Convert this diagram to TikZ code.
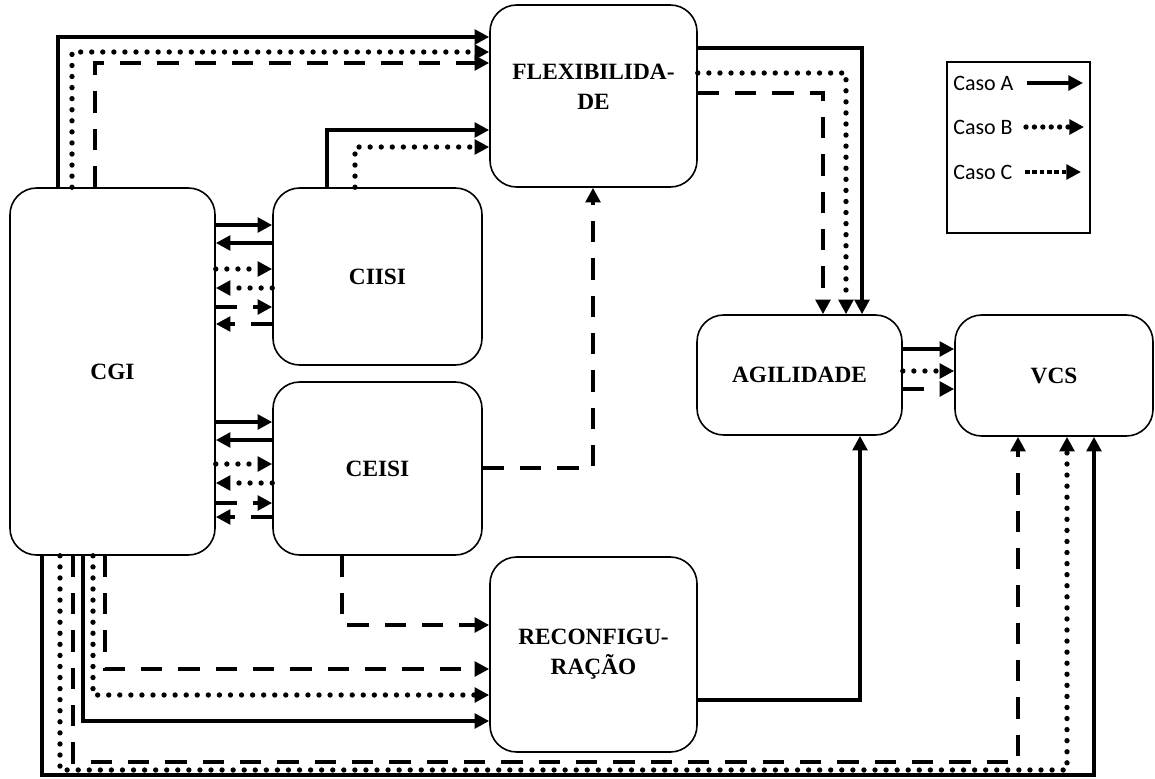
\documentclass[tikz,border=0pt]{standalone}
\usepackage{fontspec}
\setmainfont{Liberation Serif}
\newfontfamily\legfont{Carlito}
\usetikzlibrary{arrows.meta}
\begin{document}
\begin{tikzpicture}[x=0.75pt,y=-0.75pt,
  box/.style={draw,line width=1.2pt,rounded corners=20pt,inner sep=0pt,align=center,
    font=\bfseries\fontsize{17.5}{22.5}\selectfont},
  tipA/.style={-{Triangle[length=11pt,width=11pt]}},
  ca/.style={line width=3.7pt,tipA},
  cb/.style={line width=4pt,line cap=round,dash pattern=on 0pt off 8.3pt,tipA},
  cc/.style={line width=3.7pt,dash pattern=on 16pt off 12pt,tipA},
  legtext/.style={anchor=west,inner sep=0pt,font=\legfont\fontsize{16.5}{16.5}\selectfont},
  tipL/.style={-{Triangle[length=11pt,width=11pt]}},
  la/.style={line width=3.7pt,tipL},
  lb/.style={line width=4pt,line cap=round,dash pattern=on 0pt off 6.3pt,tipL},
  lc/.style={line width=3.7pt,dash pattern=on 3.5pt off 2pt,tipL},
]
\useasboundingbox (0,0) rectangle (1155,778);

% boxes
\node[box,minimum width=153.75pt,minimum height=275.25pt] (cgi) at (112.5,371.5) {CGI};
\node[box,minimum width=156.75pt,minimum height=132.75pt] (ciisi) at (377.5,276.5) {CIISI};
\node[box,minimum width=156.75pt,minimum height=129.75pt] (ceisi) at (377.5,468.5) {CEISI};
\node[box,minimum width=155.25pt,minimum height=136.5pt,text height=20pt] (flex) at (593.5,96) {FLEXIBILIDA-\\DE};
\node[box,minimum width=153.75pt,minimum height=90pt] (agil) at (799.5,375) {AGILIDADE};
\node[box,minimum width=148.5pt,minimum height=90.75pt] (vcs) at (1054,375.5) {VCS};
\node[box,minimum width=155.25pt,minimum height=146.25pt] (reconf) at (593.5,654.5) {RECONFIGU-\\RAÇÃO};

% legend
\node[draw,line width=1.2pt,minimum width=107.25pt,minimum height=128.25pt,inner sep=0pt] (legend) at (1018.5,147.5) {};
\node[legtext] (lA) at (953,83) {Caso A};
\node[legtext] (lB) at (953,127) {Caso B};
\node[legtext] (lC) at (953,172) {Caso C};
\coordinate (lAs) at (1027,83); \coordinate (lAe) at (1083,83);
\coordinate (lBs) at (1026,127); \coordinate (lBe) at (1084,127);
\coordinate (lCs) at (1025,172); \coordinate (lCe) at (1081,172);
\draw[la] (lAs) -- (lAe);
\draw[lb] (lBs) -- (lBe);
\draw[lc] (lCs) -- (lCe);

% CGI -> FLEXIBILIDADE (top)
\coordinate (t1) at (58,37); \coordinate (t2) at (72,52); \coordinate (t3) at (95,63);
\draw[ca] (cgi.north -| t1) -- (t1) -- (flex.west |- t1);
\draw[cb] (cgi.north -| t2) -- (t2) -- (flex.west |- t2);
\draw[cc] (cgi.north -| t3) -- (t3) -- (flex.west |- t3);

% CIISI -> FLEXIBILIDADE
\coordinate (u1) at (327,130); \coordinate (u2) at (355,147);
\draw[ca] (ciisi.north -| u1) -- (u1) -- (flex.west |- u1);
\draw[cb] (ciisi.north -| u2) -- (u2) -- (flex.west |- u2);

% FLEXIBILIDADE -> AGILIDADE
\coordinate (r1) at (862,48); \coordinate (r2) at (846,73); \coordinate (r3) at (823,93);
\draw[ca] (flex.east |- r1) -- (r1) -- (agil.north -| r1);
\draw[cb] (flex.east |- r2) -- (r2) -- (agil.north -| r2);
\draw[cc] (flex.east |- r3) -- (r3) -- (agil.north -| r3);

% CGI <-> CIISI
\coordinate (h1) at (244,225); \coordinate (h2) at (244,243);
\coordinate (h3) at (244,269); \coordinate (h4) at (244,288);
\coordinate (h5) at (244,307); \coordinate (h6) at (244,324);
\draw[ca] (cgi.east |- h1) -- (ciisi.west |- h1);
\draw[ca] (ciisi.west |- h2) -- (cgi.east |- h2);
\draw[cb] (cgi.east |- h3) -- (ciisi.west |- h3);
\draw[cb] (ciisi.west |- h4) -- (cgi.east |- h4);
\draw[cc] (cgi.east |- h5) -- (ciisi.west |- h5);
\draw[cc] (ciisi.west |- h6) -- (cgi.east |- h6);

% CGI <-> CEISI
\coordinate (e1) at (244,422); \coordinate (e2) at (244,440);
\coordinate (e3) at (244,464); \coordinate (e4) at (244,483);
\coordinate (e5) at (244,503); \coordinate (e6) at (244,517);
\draw[ca] (cgi.east |- e1) -- (ceisi.west |- e1);
\draw[ca] (ceisi.west |- e2) -- (cgi.east |- e2);
\draw[cb] (cgi.east |- e3) -- (ceisi.west |- e3);
\draw[cb] (ceisi.west |- e4) -- (cgi.east |- e4);
\draw[cc] (cgi.east |- e5) -- (ceisi.west |- e5);
\draw[cc] (ceisi.west |- e6) -- (cgi.east |- e6);

% CEISI -> FLEXIBILIDADE, CEISI -> RECONFIGURACAO
\coordinate (k1) at (593,468); \coordinate (k2) at (342,625);
\draw[cc] (ceisi.east |- k1) -- (k1) -- (flex.south -| k1);
\draw[cc] (ceisi.south -| k2) -- (k2) -- (reconf.west |- k2);

% CGI -> RECONFIGURACAO
\coordinate (b1) at (83,721); \coordinate (b2) at (93,695); \coordinate (b3) at (105,669);
\draw[ca] (cgi.south -| b1) -- (b1) -- (reconf.west |- b1);
\draw[cb] (cgi.south -| b2) -- (b2) -- (reconf.west |- b2);
\draw[cc] (cgi.south -| b3) -- (b3) -- (reconf.west |- b3);

% CGI -> VCS (bottom)
\coordinate (v1) at (42,775); \coordinate (w1) at (1094,775);
\coordinate (v2) at (60,770); \coordinate (w2) at (1067,770);
\coordinate (v3) at (73,762); \coordinate (w3) at (1018,762);
\draw[ca] (cgi.south -| v1) -- (v1) -- (w1) -- (vcs.south -| w1);
\draw[cb] (cgi.south -| v2) -- (v2) -- (w2) -- (vcs.south -| w2);
\draw[cc] (cgi.south -| v3) -- (v3) -- (w3) -- (vcs.south -| w3);

% RECONFIGURACAO -> AGILIDADE
\coordinate (g1) at (860,700);
\draw[ca] (reconf.east |- g1) -- (g1) -- (agil.south -| g1);

% AGILIDADE -> VCS
\coordinate (a1) at (928,349); \coordinate (a2) at (928,371); \coordinate (a3) at (928,389);
\draw[ca] (agil.east |- a1) -- (vcs.west |- a1);
\draw[cb] (agil.east |- a2) -- (vcs.west |- a2);
\draw[cc] (agil.east |- a3) -- (vcs.west |- a3);
\end{tikzpicture}
\end{document}
